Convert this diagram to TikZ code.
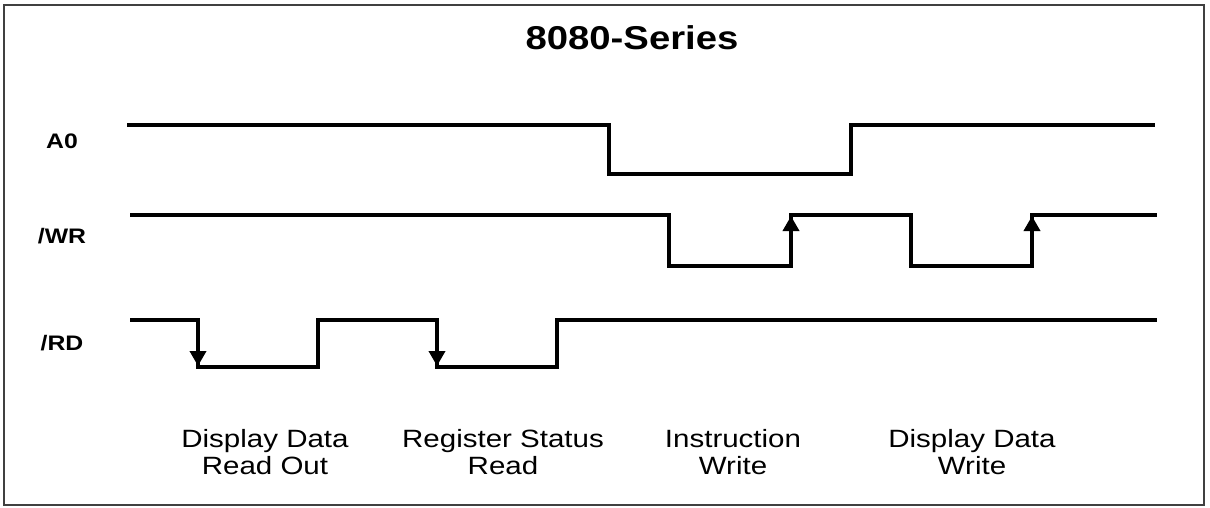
\documentclass[tikz,border=0pt]{standalone}
\usepackage{fontspec}
\setmainfont{Liberation Sans}
\usetikzlibrary{arrows.meta}
\tikzset{
  wave/.style={line width=3.6pt, line join=miter},
  edgearr/.style={line width=3.6pt, -{Triangle[width=16pt,length=15pt]}},
  siglabel/.style={font=\fontsize{21}{24}\selectfont\bfseries, xscale=1.18, transform shape, anchor=center},
  oplabel/.style={font=\fontsize{25}{27}\selectfont, align=center, xscale=1.18, transform shape, anchor=north},
}
\begin{document}
\begin{tikzpicture}[x=1pt,y=-1pt]
\useasboundingbox (0,0) rectangle (1210,507);
\fill[white] (0,0) rectangle (1210,507);
\draw[line width=1.6pt, black!75] (4,5) rectangle (1204,505);
% title
\node[font=\fontsize{33}{36}\selectfont\bfseries, xscale=1.16, transform shape] (title) at (632,38) {8080-Series};
% signal labels
\node[siglabel] (la0) at (62,141) {A0};
\node[siglabel] (lwr) at (62,236) {/WR};
\node[siglabel] (lrd) at (62,343) {/RD};
% A0
\draw[wave] (127,125) -- (609,125) -- (609,174) -- (851,174) -- (851,125) -- (1155,125);
% /WR
\draw[wave] (130,215) -- (669,215) -- (669,266) -- (791,266) -- (791,215) -- (911,215) -- (911,266) -- (1032,266) -- (1032,215) -- (1157,215);
\draw[edgearr] (791,266) -- (791,216);
\draw[edgearr] (1032,266) -- (1032,216);
% /RD
\draw[wave] (130,320) -- (198,320) -- (198,367) -- (318,367) -- (318,320) -- (437,320) -- (437,367) -- (557,367) -- (557,320) -- (1157,320);
\draw[edgearr] (198,320) -- (198,366);
\draw[edgearr] (437,320) -- (437,366);
% operation labels
\node[oplabel] (op1) at (265,426) {Display Data\\Read Out};
\node[oplabel] (op2) at (503,426) {Register Status\\Read};
\node[oplabel] (op3) at (733,426) {Instruction\\Write};
\node[oplabel] (op4) at (972,426) {Display Data\\Write};
\end{tikzpicture}
\end{document}
